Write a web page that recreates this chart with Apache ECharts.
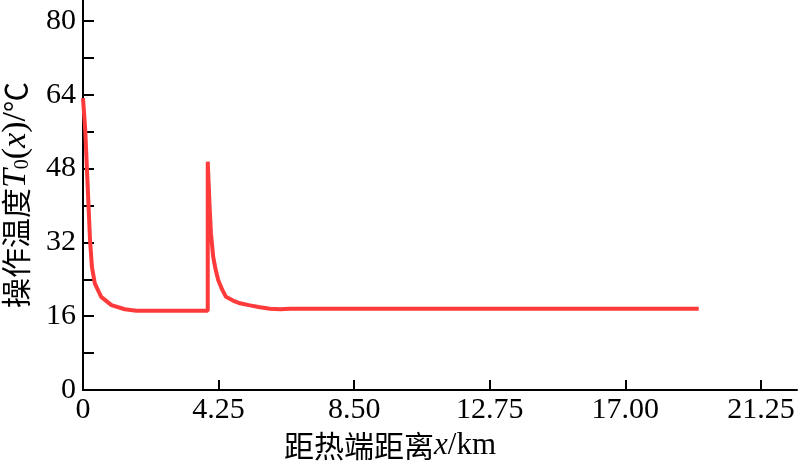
<!DOCTYPE html>
<html>
<head>
<meta charset="utf-8">
<script src="https://cdn.jsdelivr.net/npm/echarts@6/dist/echarts.min.js"></script>
<style>html,body{margin:0;padding:0;background:#fff}#c{width:800px;height:466px}</style>
</head>
<body>
<div id="c"></div>
<script>
// distance from hot end (km)
const distX = [0, 0.02, 0.07, 0.12, 0.17, 0.22, 0.28, 0.37, 0.57, 0.89, 1.31, 1.67, 2.5, 3.2, 3.91,
  3.91, 3.94, 3.97, 4.01, 4.08, 4.16, 4.24, 4.36, 4.48, 4.7, 4.92, 5.2, 5.5, 5.86, 6.18, 6.49, 9.0, 13.0, 17.0, 19.3];
// operating temperature T0(x) (°C)
const tempY = [63.3, 62.9, 56.4, 48.4, 40.5, 32.5, 26.7, 23.1, 20.2, 18.4, 17.5, 17.2, 17.2, 17.2, 17.2,
  49.5, 44.5, 39.5, 34.0, 28.9, 26.0, 23.8, 21.8, 20.2, 19.4, 18.8, 18.4, 18.0, 17.6, 17.5, 17.6, 17.6, 17.6, 17.6, 17.6];
const xLabelValues = [0, 4.25, 8.5, 12.75, 17, 21.25];
const xTickValues = [4.25, 8.5, 12.75, 17, 21.25];
const yLabelValues = [0, 16, 32, 48, 64, 80];
const yTickValues = [0, 8, 16, 24, 32, 40, 48, 56, 64, 72, 80];

const serif = 'Liberation Serif';
const cjk = 'Noto Sans CJK SC';

const chart = echarts.init(document.getElementById('c'), null, {renderer: 'canvas'});
chart.setOption({
  animation: false,
  grid: {left: 83, right: 3, top: 0, bottom: 76, containLabel: false, outerBoundsMode: 'none'},
  xAxis: {
    type: 'value', min: 0, max: 22.38,
    axisLine: {lineStyle: {color: '#000', width: 2}},
    axisTick: {inside: true, length: 10, customValues: xTickValues, lineStyle: {color: '#000', width: 2}},
    axisLabel: {customValues: xLabelValues, color: '#000', fontFamily: serif, fontSize: 30, margin: 5,
      formatter: v => v === 0 ? '0' : v.toFixed(2)},
    splitLine: {show: false},
    name: '{c|距热端距离}{i|x}{r|/km}',
    nameLocation: 'middle', nameGap: 37,
    nameTextStyle: {padding: [0, 100, 0, 0], rich: {
      c: {fontFamily: cjk, fontSize: 30, color: '#000'},
      i: {fontFamily: serif, fontStyle: 'italic', fontSize: 31, color: '#000'},
      r: {fontFamily: serif, fontSize: 31, color: '#000'}
    }}
  },
  yAxis: {
    type: 'value', min: 0, max: 84.55,
    axisLine: {lineStyle: {color: '#000', width: 2}},
    axisTick: {inside: true, length: 11, customValues: yTickValues, lineStyle: {color: '#000', width: 2}},
    axisLabel: {customValues: yLabelValues, color: '#000', fontFamily: serif, fontSize: 30, margin: 7},
    splitLine: {show: false},
    name: '{c|操作温度}{i|T}{s|0}{r|(}{i|x}{r|)/}{c|℃}',
    nameLocation: 'middle', nameGap: 50, nameRotate: 90,
    nameTextStyle: {rich: {
      c: {fontFamily: cjk, fontSize: 30, color: '#000'},
      i: {fontFamily: serif, fontStyle: 'italic', fontSize: 34, color: '#000'},
      s: {fontFamily: serif, fontSize: 20, color: '#000', verticalAlign: 'bottom', padding: [12, 0, 0, 0]},
      r: {fontFamily: serif, fontSize: 34, color: '#000'}
    }}
  },
  series: [{
    type: 'line',
    data: distX.map((x, i) => [x, tempY[i]]),
    showSymbol: false,
    smooth: false,
    lineStyle: {color: '#ff3a3a', width: 4},
    itemStyle: {color: '#ff3a3a'}
  }]
});
</script>
</body>
</html>
